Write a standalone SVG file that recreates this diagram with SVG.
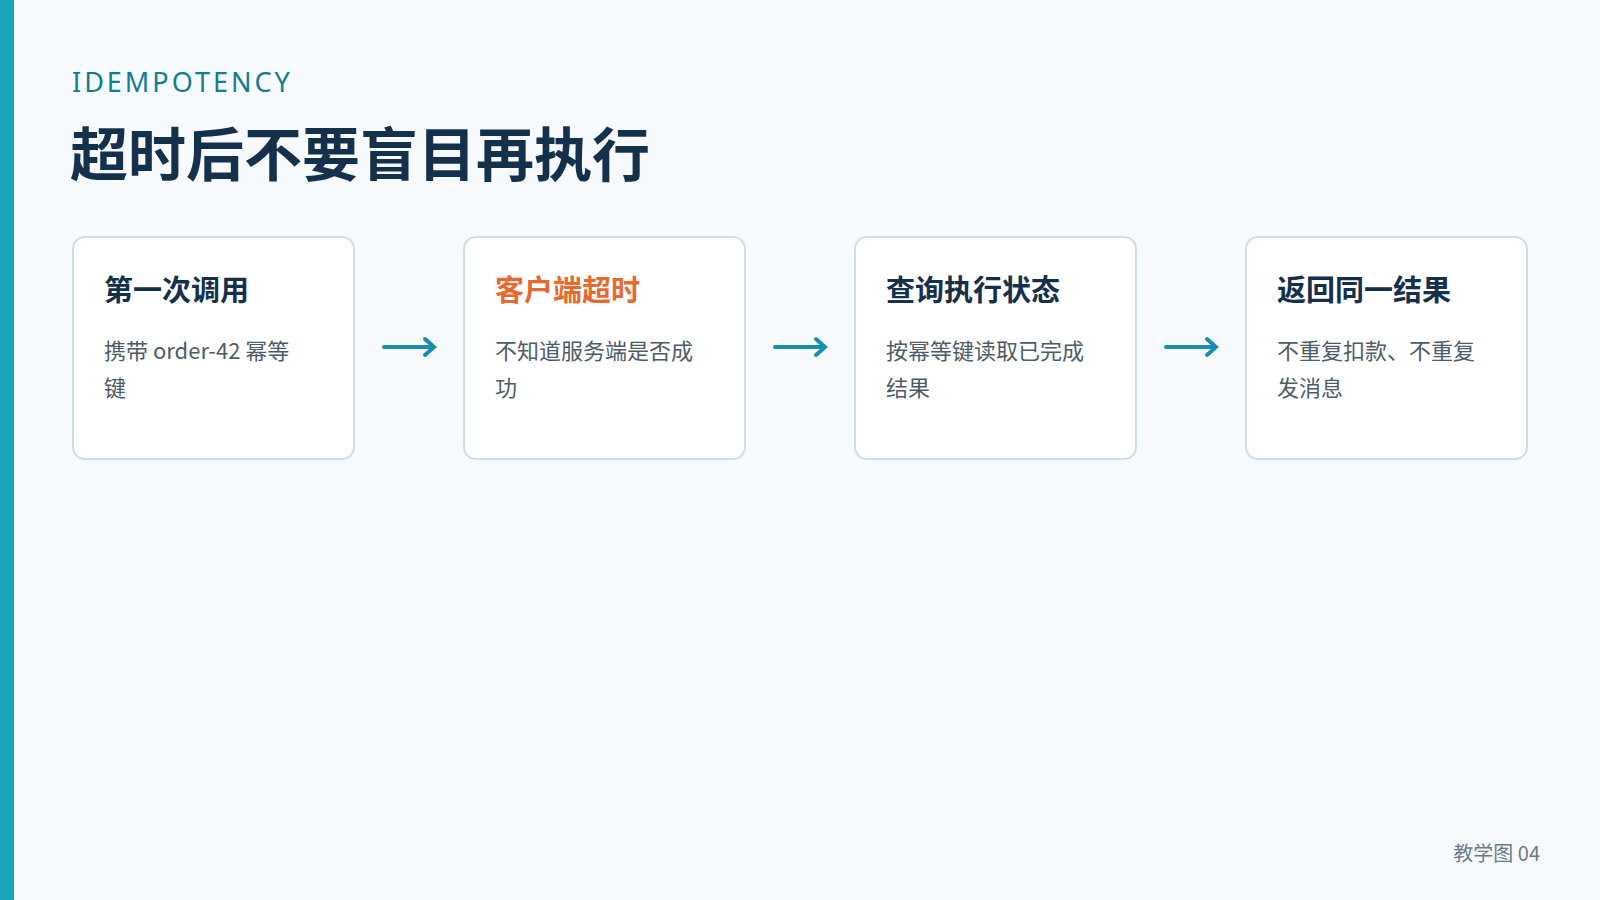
<svg xmlns="http://www.w3.org/2000/svg" width="1600" height="900" viewBox="0 0 1600 900">
<style>
.box{fill:#fff;stroke:#cfdde6;stroke-width:2}
.t{font-family:"Noto Sans CJK SC","Noto Sans",sans-serif;font-weight:700;font-size:29px;fill:#14304a}
.b{font-family:"Noto Sans CJK SC","Noto Sans",sans-serif;font-size:22px;fill:#4d5b68}
.c{stroke:#1a8db0;stroke-width:4;fill:none;stroke-linecap:round}
</style>
<defs><marker id="ah" viewBox="0 0 10 10" refX="9" refY="5" markerWidth="4" markerHeight="5" orient="auto" markerUnits="userSpaceOnUse"/></defs>
<rect width="1600" height="900" fill="#f6fafd"/>
<rect width="14" height="900" fill="#16a8b9"/>
<text x="72" y="92" font-family="'Noto Sans','Open Sans',sans-serif" font-size="27" letter-spacing="3" fill="#137c8e">IDEMPOTENCY</text>
<text x="70" y="176" font-family="'Noto Sans CJK SC',sans-serif" font-weight="700" font-size="58" fill="#14304a">超时后不要盲目再执行</text>
<g id="n1"><rect class="box" x="73" y="237" width="281" height="222" rx="12"/><text class="t" x="104" y="301">第一次调用</text><text class="b" x="104" y="359">携带 order-42 幂等</text><text class="b" x="104" y="396">键</text></g>
<g id="n2"><rect class="box" x="464" y="237" width="281" height="222" rx="12"/><text class="t" x="495" y="301" style="fill:#e8692f">客户端超时</text><text class="b" x="495" y="359">不知道服务端是否成</text><text class="b" x="495" y="396">功</text></g>
<g id="n3"><rect class="box" x="855" y="237" width="281" height="222" rx="12"/><text class="t" x="886" y="301">查询执行状态</text><text class="b" x="886" y="359">按幂等键读取已完成</text><text class="b" x="886" y="396">结果</text></g>
<g id="n4"><rect class="box" x="1246" y="237" width="281" height="222" rx="12"/><text class="t" x="1277" y="301">返回同一结果</text><text class="b" x="1277" y="359">不重复扣款、不重复</text><text class="b" x="1277" y="396">发消息</text></g>
<g id="connectors">
<path class="c" d="M384 347H434M425 339L434 347L425 355"/>
<path class="c" d="M775 347H825M816 339L825 347L816 355"/>
<path class="c" d="M1166 347H1216M1207 339L1216 347L1207 355"/>
</g>
<text x="1540" y="861" text-anchor="end" font-family="'Noto Sans CJK SC',sans-serif" font-size="20" fill="#6b7a88">教学图 04</text>
</svg>
